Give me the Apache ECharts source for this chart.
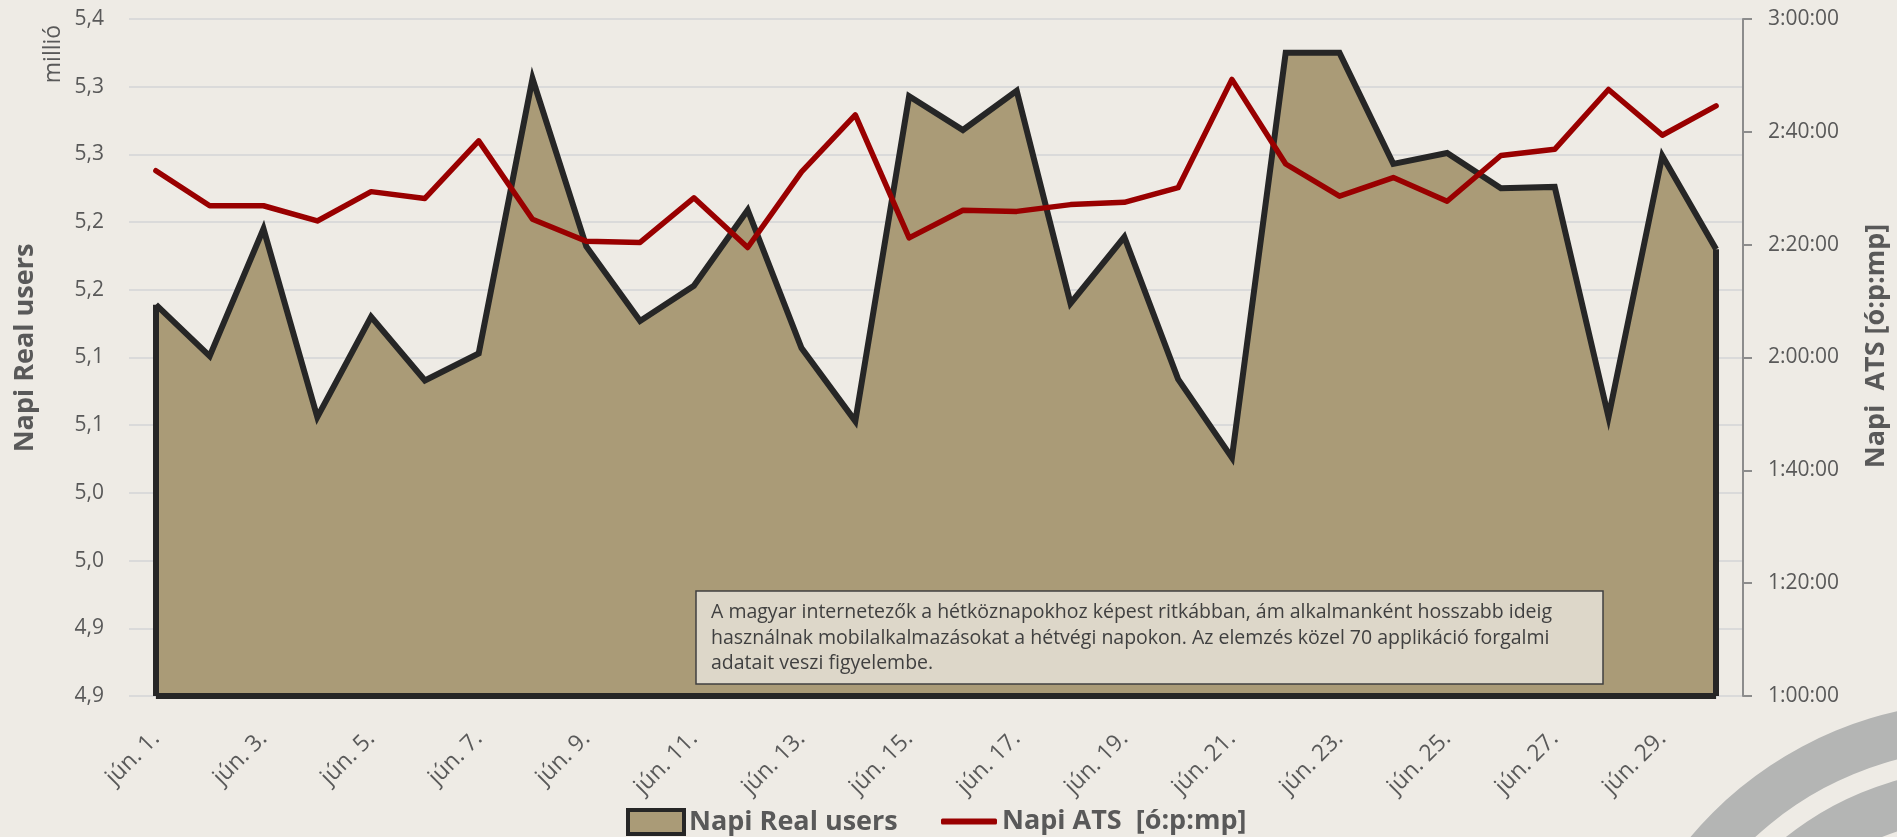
<!DOCTYPE html>
<html lang="hu">
<head>
    <meta charset="UTF-8">
    <title>Napi Real users és ATS</title>
    <script src="https://cdn.jsdelivr.net/npm/echarts@6.0.0/dist/echarts.min.js"></script>
    <style>
        html, body {
            margin: 0;
            padding: 0;
            background: #eeebe5;
        }

        #chart {
            width: 1897px;
            height: 837px;
        }
    </style>
</head>
<body>
    <div id="chart"></div>

    <script>
        // napok
        const days = [
            'jún. 1.', 'jún. 2.', 'jún. 3.', 'jún. 4.', 'jún. 5.', 'jún. 6.', 'jún. 7.', 'jún. 8.',
            'jún. 9.', 'jún. 10.', 'jún. 11.', 'jún. 12.', 'jún. 13.', 'jún. 14.', 'jún. 15.',
            'jún. 16.', 'jún. 17.', 'jún. 18.', 'jún. 19.', 'jún. 20.', 'jún. 21.', 'jún. 22.',
            'jún. 23.', 'jún. 24.', 'jún. 25.', 'jún. 26.', 'jún. 27.', 'jún. 28.', 'jún. 29.', 'jún. 30.'
        ];

        // Napi Real users (millió)
        const realUsers = [
            5.189, 5.151, 5.245, 5.106, 5.180, 5.133, 5.153, 5.356, 5.232, 5.177,
            5.203, 5.259, 5.157, 5.103, 5.343, 5.318, 5.347, 5.190, 5.239, 5.134,
            5.076, 5.375, 5.375, 5.293, 5.301, 5.275, 5.276, 5.106, 5.299, 5.230
        ];

        // Napi ATS percben
        const atsMinutes = [
            153.1, 146.9, 146.9, 144.2, 149.4, 148.2, 158.4, 144.5, 140.6, 140.4,
            148.3, 139.5, 152.9, 163.0, 141.2, 146.1, 145.9, 147.1, 147.5, 150.1,
            169.3, 154.3, 148.6, 151.9, 147.7, 155.8, 156.9, 167.5, 159.4, 164.6
        ];

        // bal tengely feliratai (Excel egy tizedesre kerekítve)
        const leftLabels = ['4,9', '4,9', '5,0', '5,0', '5,1', '5,1', '5,2', '5,2', '5,3', '5,3', '5,4'];

        const noteLines = [
            'A magyar internetezők a hétköznapokhoz képest ritkábban, ám alkalmanként hosszabb ideig',
            'használnak mobilalkalmazásokat a hétvégi napokon. Az elemzés közel 70 applikáció forgalmi',
            'adatait veszi figyelembe.'
        ];

        const FONT = '"Open Sans", "Noto Sans", sans-serif';
        const GREY = '#595959';
        const Y_MIN = 4.9;
        const USERS_NAME = 'Napi Real users';
        const ATS_NAME = 'Napi ATS  [ó:p:mp]';

        function toHms(min) {
            const total = Math.round(min * 60);
            const h = Math.floor(total / 3600);
            const m = Math.floor((total % 3600) / 60);
            const s = total % 60;
            return h + ':' + String(m).padStart(2, '0') + ':' + String(s).padStart(2, '0');
        }

        const chart = echarts.init(document.getElementById('chart'));

        const legendText = { fontFamily: FONT, fontSize: 27, fontWeight: 'bold', color: GREY };

        const option = {
            backgroundColor: '#eeebe5',
            animation: false,
            grid: { left: 129, right: 154, top: 19, bottom: 141 },
            legend: [
                {
                    top: 803,
                    left: 621,
                    itemWidth: 56,
                    itemHeight: 24,
                    textStyle: legendText,
                    data: [{
                        name: USERS_NAME,
                        icon: 'rect',
                        itemStyle: { color: '#aa9b77', borderColor: '#262626', borderWidth: 4 }
                    }]
                },
                {
                    top: 803,
                    left: 936,
                    itemWidth: 56,
                    itemHeight: 6,
                    textStyle: legendText,
                    data: [{
                        name: ATS_NAME,
                        icon: 'roundRect',
                        itemStyle: { color: '#990000', borderWidth: 0 }
                    }]
                }
            ],
            xAxis: {
                type: 'category',
                data: days,
                boundaryGap: true,
                axisLine: { show: false },
                axisTick: { show: false },
                axisLabel: {
                    interval: 1,
                    rotate: 45,
                    margin: 39,
                    fontFamily: FONT,
                    fontSize: 23,
                    color: GREY
                }
            },
            yAxis: [
                {
                    type: 'value',
                    min: Y_MIN,
                    max: 5.4,
                    interval: 0.05,
                    axisLine: { show: false },
                    axisTick: { show: false },
                    splitLine: { lineStyle: { color: '#dadada', width: 2 } },
                    axisLabel: {
                        margin: 25,
                        fontFamily: FONT,
                        fontSize: 21,
                        color: GREY,
                        formatter: (v, i) => leftLabels[i]
                    }
                },
                {
                    type: 'value',
                    min: 60,
                    max: 180,
                    interval: 20,
                    position: 'right',
                    axisLine: { show: true, lineStyle: { color: '#8c8c8c', width: 2 } },
                    axisTick: { show: true, length: 9, lineStyle: { color: '#8c8c8c', width: 2 } },
                    splitLine: { show: false },
                    axisLabel: {
                        margin: 25,
                        fontFamily: FONT,
                        fontSize: 21,
                        color: GREY,
                        formatter: v => toHms(v)
                    }
                }
            ],
            series: [
                {
                    name: USERS_NAME,
                    type: 'line',
                    yAxisIndex: 0,
                    data: realUsers,
                    symbol: 'none',
                    itemStyle: { color: '#aa9b77', borderColor: '#262626' },
                    lineStyle: { color: '#262626', width: 6, join: 'miter' },
                    areaStyle: { color: '#aa9b77', opacity: 1, origin: 'start' },
                    markLine: {
                        silent: true,
                        symbol: 'none',
                        label: { show: false },
                        lineStyle: { color: '#262626', width: 6, type: 'solid' },
                        data: [
                            [{ coord: [days[0], Y_MIN] }, { coord: [days[0], realUsers[0]] }],
                            [{ coord: [days[days.length - 1], Y_MIN] }, { coord: [days[days.length - 1], realUsers[realUsers.length - 1]] }],
                            [{ coord: [days[0], Y_MIN] }, { coord: [days[days.length - 1], Y_MIN] }]
                        ]
                    },
                    z: 2
                },
                {
                    name: ATS_NAME,
                    type: 'line',
                    yAxisIndex: 1,
                    data: atsMinutes,
                    symbol: 'none',
                    itemStyle: { color: '#990000' },
                    lineStyle: { color: '#990000', width: 5.5, join: 'round', cap: 'round' },
                    z: 3
                }
            ],
            graphic: [
                // logó ívek jobb alul
                {
                    type: 'ring',
                    shape: { cx: 1980, cy: 1080, r: 378, r0: 331 },
                    style: { fill: '#b4b5b4' },
                    silent: true,
                    z: -1
                },
                {
                    type: 'ring',
                    shape: { cx: 1980, cy: 1080, r: 311, r0: 262 },
                    style: { fill: '#b4b5b4' },
                    silent: true,
                    z: -1
                },
                // tengelycímek
                {
                    type: 'text',
                    x: 25,
                    y: 348,
                    rotation: Math.PI / 2,
                    style: {
                        text: USERS_NAME,
                        fontFamily: FONT, fontSize: 27, fontWeight: 'bold', fill: GREY,
                        align: 'center', verticalAlign: 'middle'
                    }
                },
                {
                    type: 'text',
                    x: 1876,
                    y: 346,
                    rotation: Math.PI / 2,
                    style: {
                        text: 'Napi  ATS [ó:p:mp]',
                        fontFamily: FONT, fontSize: 27, fontWeight: 'bold', fill: GREY,
                        align: 'center', verticalAlign: 'middle'
                    }
                },
                {
                    type: 'text',
                    x: 53,
                    y: 54,
                    rotation: Math.PI / 2,
                    style: {
                        text: 'millió',
                        fontFamily: FONT, fontSize: 23, fill: GREY,
                        align: 'center', verticalAlign: 'middle'
                    }
                },
                // megjegyzés doboz
                {
                    type: 'rect',
                    z: 100,
                    shape: { x: 696, y: 591, width: 907, height: 93 },
                    style: { fill: '#ddd7c9', stroke: '#404040', lineWidth: 1.5 }
                },
                {
                    type: 'text',
                    z: 101,
                    x: 711,
                    y: 600,
                    style: {
                        text: noteLines.join('\n'),
                        fontFamily: FONT, fontSize: 19.5, lineHeight: 25.5, fill: '#404040'
                    }
                }
            ]
        };

        chart.setOption(option);
    </script>
</body>
</html>
